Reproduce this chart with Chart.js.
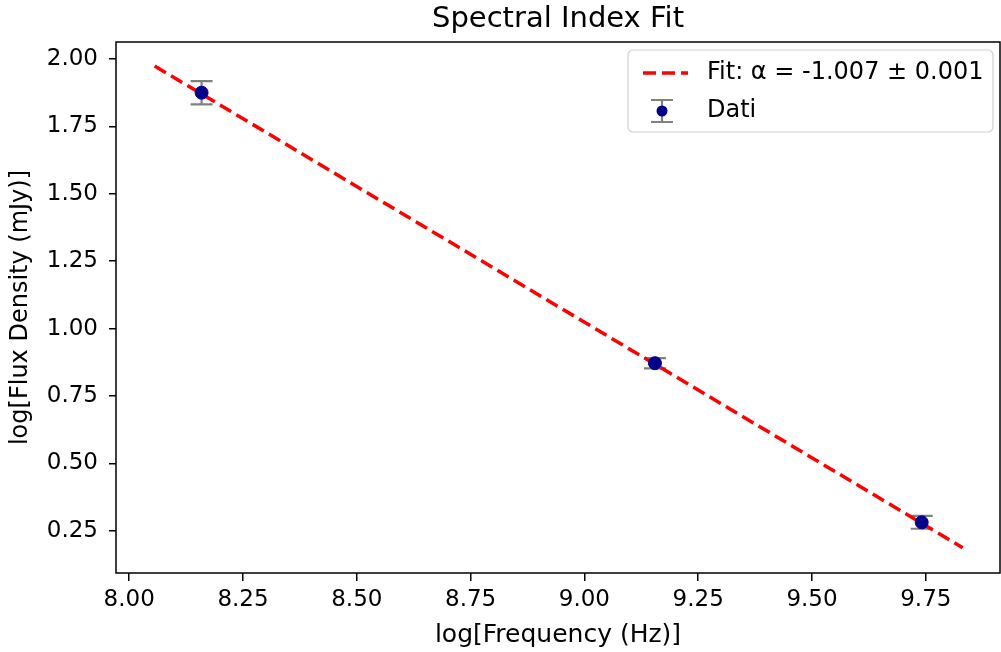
<!DOCTYPE html>
<html>
<head>
<meta charset="utf-8">
<script src="https://cdn.jsdelivr.net/npm/chart.js@4.4.1/dist/chart.umd.min.js"></script>
<style>
  html, body { margin: 0; padding: 0; background: #fff; }
  canvas { display: block; }
</style>
</head>
<body>
<canvas id="fitChart" width="1001" height="652"></canvas>
<script>
// data
const freqLog = [8.159, 9.155, 9.741];
const fluxLog = [1.875, 0.872, 0.282];
const fluxErr = [0.043, 0.019, 0.024];
const fitX = [8.056, 9.831];
const fitY = [1.974, 0.188];
const chartTitle = 'Spectral Index Fit';
const fitLabel = 'Fit: α = -1.007 ± 0.001';
const dataLabel = 'Dati';

const FONT = 'DejaVu Sans';

const ctx = document.getElementById('fitChart').getContext('2d');

// matplotlib style error bars, drawn under the points
const errorBars = {
    id: 'errorBars',
    beforeDatasetsDraw(chart) {
        const { ctx, scales: { x, y } } = chart;
        ctx.save();
        ctx.strokeStyle = '#808080';
        ctx.lineWidth = 2.2;
        freqLog.forEach((fx, i) => {
            const px = x.getPixelForValue(fx);
            const top = y.getPixelForValue(fluxLog[i] + fluxErr[i]);
            const bot = y.getPixelForValue(fluxLog[i] - fluxErr[i]);
            ctx.beginPath();
            ctx.moveTo(px, top); ctx.lineTo(px, bot);
            ctx.moveTo(px - 11, top); ctx.lineTo(px + 11, top);
            ctx.moveTo(px - 11, bot); ctx.lineTo(px + 11, bot);
            ctx.stroke();
        });
        ctx.restore();
    }
};

// title over the axes, full box round them, legend in the upper right corner
const frameAndLegend = {
    id: 'frameAndLegend',
    afterDraw(chart) {
        const { ctx, chartArea: a } = chart;
        ctx.save();
        ctx.fillStyle = '#000';
        ctx.font = '29px ' + FONT;
        ctx.textAlign = 'center';
        ctx.textBaseline = 'middle';
        ctx.fillText(chartTitle, (a.left + a.right) / 2, 19);

        ctx.strokeStyle = '#000';
        ctx.lineWidth = 1.5;
        ctx.strokeRect(a.left, a.top, a.right - a.left, a.bottom - a.top);

        // legend box
        const bx = a.right - 372, by = a.top + 8, bw = 365, bh = 82;
        ctx.beginPath();
        ctx.roundRect(bx, by, bw, bh, 5);
        ctx.fillStyle = 'rgba(255,255,255,0.8)';
        ctx.fill();
        ctx.strokeStyle = '#d0d0d0';
        ctx.lineWidth = 1.2;
        ctx.stroke();

        // fit entry
        const r1 = by + 23, r2 = by + 61;
        ctx.strokeStyle = 'red';
        ctx.lineWidth = 3.5;
        ctx.setLineDash([13, 6]);
        ctx.beginPath();
        ctx.moveTo(bx + 15, r1); ctx.lineTo(bx + 60, r1);
        ctx.stroke();
        ctx.setLineDash([]);

        // data entry
        const cx = bx + 34;
        ctx.strokeStyle = '#808080';
        ctx.lineWidth = 2.2;
        ctx.beginPath();
        ctx.moveTo(cx, r2 - 11); ctx.lineTo(cx, r2 + 11);
        ctx.moveTo(cx - 11, r2 - 11); ctx.lineTo(cx + 11, r2 - 11);
        ctx.moveTo(cx - 11, r2 + 11); ctx.lineTo(cx + 11, r2 + 11);
        ctx.stroke();
        ctx.fillStyle = '#00008b';
        ctx.beginPath();
        ctx.arc(cx, r2, 5.5, 0, Math.PI * 2);
        ctx.fill();

        ctx.fillStyle = '#000';
        ctx.font = '24px ' + FONT;
        ctx.textBaseline = 'middle';
        ctx.textAlign = 'left';
        ctx.fillText(fitLabel, bx + 79, r1);
        ctx.fillText(dataLabel, bx + 79, r2);
        ctx.restore();
    }
};

const fitChart = new Chart(ctx, {
    type: 'scatter',
    data: {
        datasets: [{
            label: dataLabel,
            data: freqLog.map((v, i) => ({ x: v, y: fluxLog[i] })),
            backgroundColor: '#00008b',
            borderColor: '#00008b',
            pointRadius: 6.5,
            pointHoverRadius: 6.5,
            order: 0
        }, {
            label: fitLabel,
            type: 'line',
            data: fitX.map((v, i) => ({ x: v, y: fitY[i] })),
            borderColor: 'red',
            borderWidth: 3.5,
            borderDash: [13, 6],
            pointRadius: 0,
            fill: false,
            order: 1
        }]
    },
    options: {
        responsive: false,
        animation: false,
        devicePixelRatio: 1,
        // autoPadding would keep ~8px free on the right for the point radius
        layout: { autoPadding: false, padding: { left: 0, right: 1, top: 42, bottom: 0 } },
        plugins: {
            legend: { display: false },
            tooltip: { enabled: false },
            title: { display: false }
        },
        scales: {
            x: {
                type: 'linear',
                min: 7.971,
                max: 9.913,
                border: { display: false },
                grid: { drawOnChartArea: false, color: '#000', lineWidth: 1.5, tickLength: 8 },
                ticks: {
                    stepSize: 0.25,
                    includeBounds: false,
                    color: '#000',
                    padding: 5,
                    maxRotation: 0,
                    font: { family: FONT, size: 23 },
                    callback: v => v.toFixed(2)
                },
                title: {
                    display: true,
                    text: 'log[Frequency (Hz)]',
                    color: '#000',
                    font: { family: FONT, size: 25 },
                    padding: { top: 0, bottom: 2 }
                },
                afterFit(scale) {
                    scale.height = 79;
                    scale.paddingLeft = 0;
                    scale.paddingRight = 0;
                }
            },
            y: {
                type: 'linear',
                min: 0.094,
                max: 2.063,
                border: { display: false },
                grid: { drawOnChartArea: false, color: '#000', lineWidth: 1.5, tickLength: 7 },
                ticks: {
                    stepSize: 0.25,
                    includeBounds: false,
                    color: '#000',
                    padding: 11,
                    font: { family: FONT, size: 23 },
                    callback: v => v.toFixed(2)
                },
                title: {
                    display: true,
                    text: 'log[Flux Density (mJy)]',
                    color: '#000',
                    font: { family: FONT, size: 24 },
                    padding: { top: 6, bottom: 0 }
                },
                afterFit(scale) {
                    scale.width = 116;
                    scale.paddingTop = 0;
                    scale.paddingBottom = 0;
                }
            }
        }
    },
    plugins: [errorBars, frameAndLegend]
});
</script>
</body>
</html>
